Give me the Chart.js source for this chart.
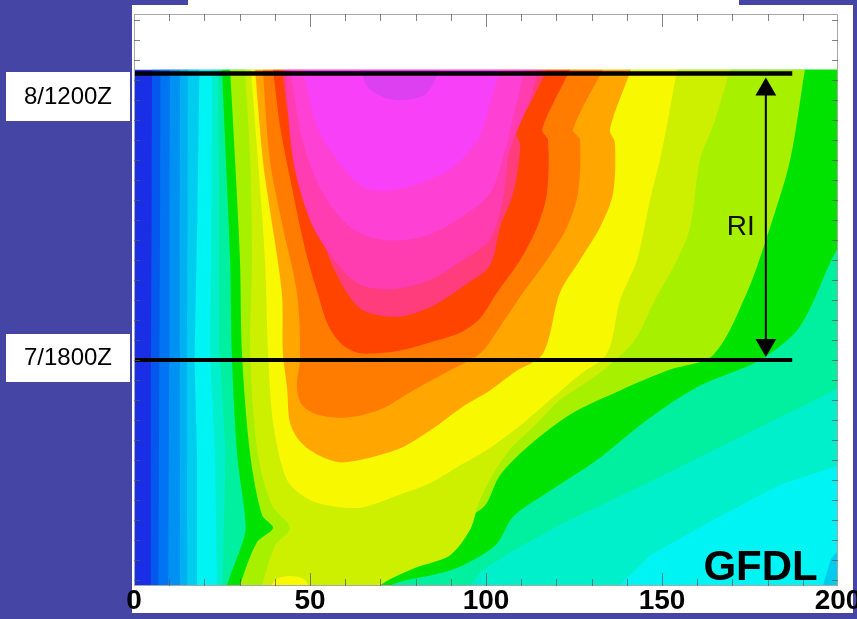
<!DOCTYPE html>
<html>
<head>
<meta charset="utf-8">
<script src="https://cdn.jsdelivr.net/npm/chart.js@4.4.1/dist/chart.umd.min.js"></script>
<style>
  html, body { margin: 0; padding: 0; background: #4545a6; overflow: hidden; }
  #wrap { position: relative; width: 857px; height: 619px; }
  .panel { position: absolute; background: #fff; }
  canvas { position: absolute; left: 0; top: 0; }
</style>
</head>
<body>
<div id="wrap">
  <div class="panel" style="left:132px; top:5px; width:721px; height:608px"></div>
  <div class="panel" style="left:188px; top:0; width:551px; height:6px"></div>
  <canvas id="chart" width="857" height="619"></canvas>
</div>
<script>
// radius (km) on x, hours relative to 7/1800Z on y
var xMin = 0, xMax = 200;
var yMin = -14.125, yMax = 21.625;

// contour bands, painted from lowest to highest level: [radius km, hour]
var band00 = [[-3,18.15],[205,18.15],[205,-15],[-3,-15]];
var band01 = [[5.1,18.15],[205,18.15],[205,-15],[4.6,-15],[4.8,0],[5,9]];
var band02 = [[7.5,18.15],[205,18.15],[205,-15],[6.9,-15],[7.2,0],[7.4,9]];
var band03 = [[10.2,18.15],[205,18.15],[205,-15],[9.7,-15],[10,0],[10.1,9]];
var band04 = [[13.1,18.15],[205,18.15],[205,-15],[13.1,-15],[13,0],[13,9]];
var band05 = [[15.3,18.15],[205,18.15],[205,-15],[15.1,-15],[15,0],[15.2,9]];
var band06 = [[18.6,18.15],[205,18.15],[205,-10.9],[198,-12.4],[194.5,-15],[17.9,-15],[17.9,-6],[17.2,0],[18,9]];
var band07 = [[22.2,18.15],[205,18.15],[205,-6.25],[183.5,-7.8],[164.5,-10],[146.6,-12.2],[133.8,-15],[23.6,-15],[23,-5.9],[21.6,0.4],[22,9]];
var band08 = [[23.9,18.15],[205,18.15],[205,-1.25],[174.1,-4.6],[145.7,-7.7],[121.9,-10.2],[107.7,-11.9],[98.3,-13.25],[92.6,-15],[25,-15],[26,-5.9],[24.4,0.4],[24.2,9]];
var band09 = [[25,18.15],[205,18.15],[205,7.5],[200.3,7.1],[189.2,2.1],[177.8,0],[159.9,-1.7],[145.7,-3.75],[131.5,-6.25],[117.3,-8.3],[107.7,-9.8],[102.6,-11.6],[90.6,-13.1],[72.7,-14.1],[71.3,-15],[26,-15],[26.4,-14.1],[31.5,-10.9],[31.5,-9.7],[29.3,-5.9],[27.8,0.3],[27.3,6.25],[26.1,12.5]];
var band10 = [[27.3,18.15],[28.7,12.5],[30.1,6.25],[30.7,0.3],[33,-5.9],[36.4,-9.7],[39.5,-10.5],[34.9,-11.4],[30.1,-14.1],[29.5,-15],[62.8,-15],[63.4,-14.1],[74.7,-12.8],[86.1,-11.9],[94,-10],[99.7,-9.1],[104,-7.2],[112.5,-5.3],[123.9,-3.4],[138.1,-1.9],[152.3,-0.6],[164.5,0.3],[174.1,4.2],[180.7,8.3],[186.4,12.5],[190.6,18.15]];
var band11 = [[31.5,18.15],[33,12.5],[33.5,6.25],[33,0.3],[35.2,-5.9],[39.2,-9.1],[44.3,-10.5],[40.1,-11.6],[36.4,-14.1],[35.8,-15],[68.5,-15],[69.9,-14.1],[79.8,-13],[89.8,-12.2],[95.5,-10.6],[97.7,-9.1],[101.1,-7.5],[106.8,-5.6],[113.9,-4.1],[121,-2.5],[129.5,-1.25],[135.2,-0.3],[142.3,1.25],[148,3.75],[154.3,6.25],[158,8.3],[160.8,12.5],[165.1,15],[169.3,18.15]];
var band12 = [[33.2,18.15],[35.2,12.5],[37.2,6.25],[38.1,0.4],[39.5,-3.9],[43.5,-7.5],[50,-8.75],[58.5,-9.2],[65.1,-9.2],[75.6,-8.4],[84.1,-7.7],[92.6,-6.6],[101.1,-5.5],[109.7,-4.1],[118.2,-2.5],[126.7,-0.9],[134.4,0.4],[138.1,3.75],[142.9,6.25],[146.6,10],[149.4,12.5],[151.7,15],[154.3,18.15]];
var yellowSpot = [[37.2,-15],[40.1,-13.75],[44.3,-13.5],[48.6,-13.75],[50.6,-15]];
var band13 = [[34.4,18.15],[36.6,12.5],[38.6,9.4],[42,4.2],[42.3,0.4],[43.5,-1.75],[44.3,-3.9],[47.2,-5.1],[52,-5.9],[59.4,-6.4],[74.7,-5.6],[84.1,-4.4],[93.5,-2.9],[101.1,-1.9],[108.2,-0.75],[116.2,0.4],[121,4.2],[126.7,6.25],[132.4,8.3],[136.1,10.4],[136.6,13.6],[135.2,14.4],[141.2,18.15]];
var band14 = [[36.6,18.15],[38.6,12.5],[42.3,8.3],[46.3,4.2],[47.2,0.3],[46.3,-1.75],[47.7,-2.8],[52,-3.4],[60.5,-3.6],[69.9,-3.1],[79.3,-1.9],[88.9,-0.75],[98.3,0.4],[104,2.1],[110.5,4.2],[117.3,6.25],[123,8.3],[126.1,10.4],[126.7,13.75],[124.7,14.4],[133.2,18.15]];
var band15 = [[39.5,18.15],[41.5,14.6],[44.3,11.4],[47.2,8.3],[49.4,6.25],[52.3,4.1],[55.1,2.2],[58.5,1.1],[62.8,0.5],[67,0.4],[75.6,0.6],[84.1,1.1],[92.6,1.7],[98.3,2.6],[103.1,4.2],[109.7,6.25],[114.5,8.3],[117.3,10.4],[117.6,13.75],[115.9,14.4],[123.9,18.15]];
var band16 = [[42,18.15],[44.3,14.6],[48,11.4],[52.8,8.3],[55.7,6.25],[60.5,4.2],[65.1,3.1],[74.7,2.7],[84.1,3.3],[93.5,4.6],[101.1,5.9],[104,8.3],[107.7,10.4],[109.7,13.4],[108.2,14.4],[112.5,16],[117.3,18.15]];
var band17 = [[42.9,18.15],[45.2,12.5],[50,8.75],[55.7,6.6],[63.4,4.8],[72.7,4.4],[84.1,5],[93.5,6.25],[101.1,7.5],[104.8,10],[106.8,13.1],[112.5,16.25],[114.8,18.15]];
var band18 = [[44.3,18.15],[48,13.6],[53.7,10.4],[61.4,8.3],[70.7,7.5],[82.1,7.7],[91.8,8.75],[101.1,10.4],[105.4,13.1],[108.2,15.6],[111.1,18.15]];
var band19 = [[48,18.15],[52,14.6],[57.7,12.5],[65.1,10.8],[72.7,10.6],[82.1,11.1],[89.8,11.9],[97.7,13.75],[100.6,15.6],[104,18.15]];
var band20 = [[64.2,18.15],[67,16.9],[74.1,16.25],[82.7,16.6],[86.9,18.15]];

var bands = [band00, band01, band02, band03, band04, band05, band06, band07, band08, band09, band10,
             band11, band12, yellowSpot, band13, band14, band15, band16, band17, band18, band19, band20];
var bandColors = ['#1a2ee6', '#0558ee', '#0074f2', '#0092f2', '#00b0f2', '#00ccf0', '#00f4f4', '#00f0cc',
                  '#00f0a0', '#00e200', '#a6f000', '#ccf000', '#f8f800', '#f8f800', '#ffa600', '#ff7c00',
                  '#ff4400', '#ff3c7c', '#ff3cb0', '#ff40d4', '#f840f8', '#dc40f0'];

// blank strip above the last output time
var topBlank = [[-3,21.7],[205,21.7],[205,18.15],[-3,18.15]];

// annotations
var line8_1200 = [[0,17.9],[187,17.9]];
var line7_1800 = [[0,0],[187,0]];
var riArrow = [[179.5,16.9],[179.5,0.94]];

function pts(a) { return a.map(function (p) { return {x: p[0], y: p[1]}; }); }

var datasets = bands.map(function (b, i) {
    return {
        data: pts(b),
        showLine: true,
        fill: 'shape',
        backgroundColor: bandColors[i],
        borderWidth: 0,
        pointRadius: 0,
        tension: i <= 8 ? 0 : 0.3,
        order: 1000 - i
    };
});
datasets.push({ data: pts(topBlank), showLine: true, fill: 'shape', backgroundColor: '#ffffff',
                borderWidth: 0, pointRadius: 0, tension: 0, order: 10 });
datasets.push({ data: pts(line8_1200), showLine: true, borderColor: '#000', borderWidth: 4.5,
                pointRadius: 0, order: 3 });
datasets.push({ data: pts(line7_1800), showLine: true, borderColor: '#000', borderWidth: 4,
                pointRadius: 0, order: 2 });
datasets.push({ data: pts(riArrow), showLine: true, borderColor: '#000', borderWidth: 2,
                pointStyle: 'triangle', pointRadius: 12, pointRotation: [0, 180],
                pointBackgroundColor: '#000', pointBorderWidth: 0, order: 1 });

var framePlugin = {
    id: 'frame',
    afterDatasetsDraw: function (chart) {
        var ctx = chart.ctx, a = chart.chartArea;
        var xs = chart.scales.x, ys = chart.scales.y;
        ctx.save();
        ctx.strokeStyle = '#a8a8a8';
        ctx.lineWidth = 1;
        ctx.strokeRect(a.left + 0.5, a.top + 0.5, a.right - a.left - 1, a.bottom - a.top - 1);
        ctx.strokeStyle = 'rgba(90,90,90,0.75)';
        ctx.beginPath();
        for (var v = 10; v < 200; v += 10) {
            var px = Math.round(xs.getPixelForValue(v)) + 0.5;
            var len = v % 50 === 0 ? 13 : 7;
            ctx.moveTo(px, a.top); ctx.lineTo(px, a.top + len);
            ctx.moveTo(px, a.bottom); ctx.lineTo(px, a.bottom - len);
        }
        for (var h = -13.75; h < 21.6; h += 1.25) {
            var py = Math.round(ys.getPixelForValue(h)) + 0.5;
            ctx.moveTo(a.left, py); ctx.lineTo(a.left + 6, py);
            ctx.moveTo(a.right, py); ctx.lineTo(a.right - 6, py);
        }
        ctx.stroke();
        ctx.restore();
    },
    afterDraw: function (chart) {
        var ctx = chart.ctx;
        var xs = chart.scales.x, ys = chart.scales.y;
        var y18 = ys.getPixelForValue(18), y0 = ys.getPixelForValue(0);
        ctx.save();
        ctx.fillStyle = '#fff';
        ctx.fillRect(6, y18, 124, 49);
        ctx.fillRect(6, y0 - 26, 124, 48);
        ctx.fillStyle = '#000';
        ctx.textAlign = 'center';
        ctx.textBaseline = 'middle';
        ctx.font = '24px "Liberation Sans", Arial, sans-serif';
        ctx.fillText('8/1200Z', 68, y18 + 25);
        ctx.fillText('7/1800Z', 68, y0 - 2);
        ctx.fillStyle = '#111';
        ctx.font = '28px "Liberation Sans", Arial, sans-serif';
        ctx.fillText('RI', xs.getPixelForValue(172.4), ys.getPixelForValue(8.3));
        ctx.fillStyle = '#000';
        ctx.textBaseline = 'alphabetic';
        ctx.font = 'bold 42px "Liberation Sans", Arial, sans-serif';
        ctx.fillText('GFDL', xs.getPixelForValue(178), ys.getPixelForValue(-13.75));
        ctx.restore();
    }
};

new Chart(document.getElementById('chart'), {
    type: 'scatter',
    data: { datasets: datasets },
    options: {
        responsive: false,
        animation: false,
        layout: { padding: { left: 134, right: 19, top: 14, bottom: 0 } },
        plugins: { legend: { display: false }, tooltip: { enabled: false } },
        scales: {
            x: {
                type: 'linear', min: xMin, max: xMax,
                grid: { display: false, drawTicks: false },
                border: { display: false },
                ticks: {
                    stepSize: 50, color: '#000', padding: 1, maxRotation: 0, autoSkip: false,
                    font: { family: '"Liberation Sans", Arial, sans-serif', size: 28, weight: 'bold', lineHeight: 1 }
                },
                afterFit: function (s) { s.height = 33; s.paddingLeft = 0; s.paddingRight = 0; }
            },
            y: { type: 'linear', min: yMin, max: yMax, display: false }
        }
    },
    plugins: [framePlugin]
});
</script>
</body>
</html>
